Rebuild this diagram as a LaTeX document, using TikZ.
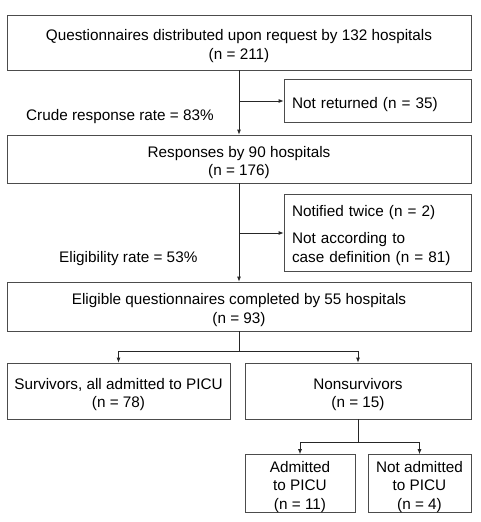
\documentclass[tikz,border=0pt]{standalone}
\usepackage{fontspec}
\setmainfont{Liberation Sans}
\usetikzlibrary{arrows.meta}
\newcommand\boxtopstrut{\rule{0pt}{18pt}}
\begin{document}
\begin{tikzpicture}[x=1pt,y=-1pt,
  box/.style={draw=black!70, line width=0.8pt, inner sep=0pt, align=center,
    font=\fontsize{15.3}{18.3}\selectfont},
  leftbox/.style={box, align=left, text width=171pt},
  lbl/.style={inner sep=0pt, font=\fontsize{15.3}{18}\selectfont},
  line/.style={draw=black!85, line width=0.8pt},
  arr/.style={line, -{Latex[length=5pt,width=4pt]}}]
\useasboundingbox (0,0) rectangle (480,522);
\node[box, minimum width=464pt, minimum height=55pt] (q) at (239,42.5)
  {\boxtopstrut Questionnaires distributed upon request by 132 hospitals\\(n = 211)};
\node[leftbox, minimum width=187pt, minimum height=43pt] (nr) at (377.5,101)
  {\boxtopstrut Not returned (n = 35)};
\node[box, minimum width=464pt, minimum height=48pt] (r) at (239,159)
  {\boxtopstrut Responses by 90 hospitals\\(n = 176)};
\node[leftbox, minimum width=187pt, minimum height=77pt,
  font=\fontsize{15.3}{19}\selectfont] (ex) at (377.5,232.5)
  {\boxtopstrut Notified twice (n = 2)\\[8pt]Not according to\\case definition (n = 81)};
\node[box, minimum width=464pt, minimum height=49pt] (e) at (239,306.5)
  {\boxtopstrut Eligible questionnaires completed by 55 hospitals\\(n = 93)};
\node[box, minimum width=223pt, minimum height=56pt] (s) at (118.5,391)
  {\boxtopstrut Survivors, all admitted to PICU\\(n = 78)};
\node[box, minimum width=226pt, minimum height=56pt] (ns) at (358,391)
  {\boxtopstrut Nonsurvivors\\(n = 15)};
\node[box, minimum width=110pt, minimum height=53pt] (a) at (300,483.5)
  {\boxtopstrut Admitted\\to PICU\\(n = 11)};
\node[box, minimum width=103pt, minimum height=53pt] (na) at (419.5,483.5)
  {\boxtopstrut Not admitted\\to PICU\\(n = 4)};
\node[lbl, anchor=west] (crude) at (26,117) {Crude response rate = 83\%};
\node[lbl, anchor=west] (elig) at (59,259) {Eligibility rate = 53\%};
\coordinate (b1) at (239,101);
\coordinate (b2) at (239,233);
\coordinate (b3) at (239,351);
\coordinate (b4) at (358,442);
\draw[arr] (q.south) -- (r.north);
\draw[arr] (b1) -- (b1 -| nr.west);
\draw[arr] (r.south) -- (e.north);
\draw[arr] (b2) -- (b2 -| ex.west);
\draw[line] (e.south) -- (b3);
\draw[arr] (b3) -| (s.north);
\draw[arr] (b3) -| (ns.north);
\draw[line] (ns.south) -- (b4);
\draw[arr] (b4) -| (a.north);
\draw[arr] (b4) -| (na.north);
\end{tikzpicture}
\end{document}
